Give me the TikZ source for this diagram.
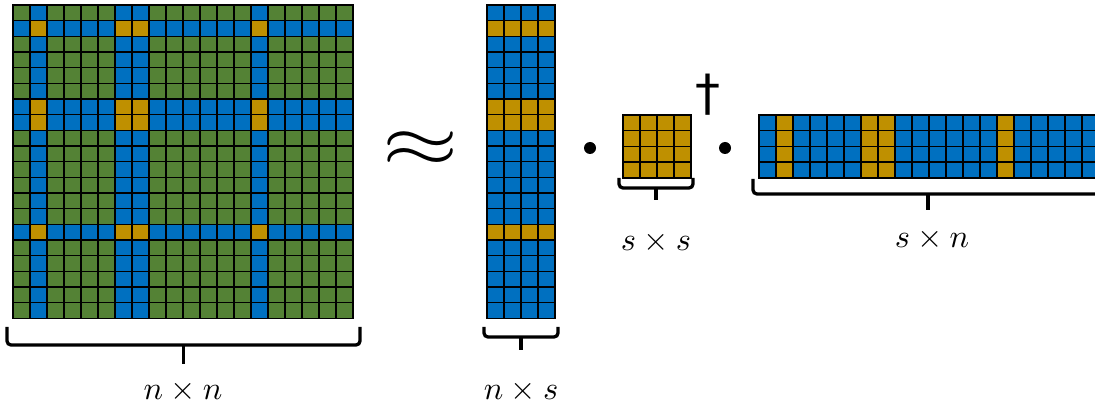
\documentclass[tikz,border=0pt]{standalone}
\usepackage{fontspec}
\usetikzlibrary{calc}
\newfontfamily\symfont{DejaVu Sans}
\definecolor{cgreen}{HTML}{548235}
\definecolor{cblue}{HTML}{0070C0}
\definecolor{cgold}{HTML}{BF9000}
\colorlet{fill0}{cgreen}
\colorlet{fill1}{cblue}
\colorlet{fill2}{cgold}

% selected (sampled) indices: 1, 6, 7, 14
\newcommand{\issel}[2]{\pgfmathtruncatemacro#1{(#2==1)||(#2==6)||(#2==7)||(#2==14)}}
% brace under a block: left x, right x, top y, bar y, tip y
\newcommand{\dimbrace}[5]{%
  \draw[brace] (#1,#3) -- (#1,#4) -- (#2,#4) -- (#2,#3);
  \draw[brace, rounded corners=0pt] ({(#1+#2)/2},#4) -- ({(#1+#2)/2},#5);}
% large math label
\newcommand{\biglabel}[1]{\scalebox{3.25}{$#1$}}

\begin{document}
\begin{tikzpicture}[x=1pt,y=-1pt,
  cell/.style={draw=black, line width=1.5pt},
  brace/.style={draw=black, line width=3.3pt, rounded corners=4pt},
  lbl/.style={inner sep=0pt},
  dotop/.style={circle, fill=black, inner sep=0pt, minimum size=12pt}]
\useasboundingbox (0,0) rectangle (1095,411);
\clip (0,0) rectangle (1095,411);
\def\cw{17}
\def\ch{15.67}

% n x n matrix
\coordinate (A) at (13,5);
\foreach \r in {0,...,19} {
  \foreach \c in {0,...,19} {
    \issel\rs\r \issel\cs\c
    \pgfmathtruncatemacro\k{\rs+\cs}
    \filldraw[cell, fill=fill\k] ($(A)+(\c*\cw,\r*\ch)$) rectangle ++(\cw,\ch);
  }
}

% n x s matrix
\coordinate (C) at (487,5);
\foreach \r in {0,...,19} {
  \foreach \c in {0,...,3} {
    \issel\rs\r
    \pgfmathtruncatemacro\k{\rs+1}
    \filldraw[cell, fill=fill\k] ($(C)+(\c*\cw,\r*\ch)$) rectangle ++(\cw,\ch);
  }
}

% s x s matrix
\coordinate (U) at (623,115);
\foreach \r in {0,...,3} {
  \foreach \c in {0,...,3} {
    \filldraw[cell, fill=cgold] ($(U)+(\c*\cw,\r*15.75)$) rectangle ++(\cw,15.75);
  }
}

% s x n matrix
\coordinate (R) at (759,115);
\foreach \r in {0,...,3} {
  \foreach \c in {0,...,19} {
    \issel\cs\c
    \pgfmathtruncatemacro\k{\cs+1}
    \filldraw[cell, fill=fill\k] ($(R)+(\c*\cw,\r*15.75)$) rectangle ++(\cw,15.75);
  }
}

% operators
\node[inner sep=0pt] (approx) at (421,149) {\scalebox{9.8}[7.2]{$\approx$}};
\node[dotop] (dot1) at (590,148) {};
\node[dotop] (dot2) at (725,148) {};
\node[inner sep=0pt, font=\symfont\fontsize{50}{54}\selectfont] (dag) at (708,95) {†};

% braces
\dimbrace{7}{360}{327}{345}{364}
\dimbrace{484}{558}{327}{337}{350}
\dimbrace{619}{693}{178}{188}{200}
\dimbrace{753}{1103}{179}{194}{210}

% dimension labels
\node[lbl] (lnn) at (183,391) {\biglabel{n\times n}};
\node[lbl] (lns) at (521,391) {\biglabel{n\times s}};
\node[lbl] (lss) at (656,242) {\biglabel{s\times s}};
\node[lbl] (lsn) at (932,239) {\biglabel{s\times n}};
\end{tikzpicture}
\end{document}
